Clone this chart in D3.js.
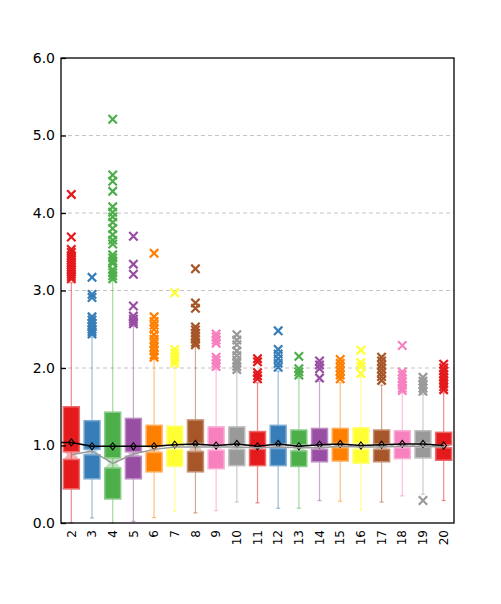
<!DOCTYPE html>
<html>
<head>
<meta charset="utf-8">
<script src="https://cdn.jsdelivr.net/npm/d3@7"></script>
<style>
  body { margin: 0; background: #fff; }
  text { font-family: "DejaVu Sans", Verdana, sans-serif; }
</style>
</head>
<body>
<svg id="chart" width="501" height="604"></svg>
<script>
// values
const categories = ["2","3","4","5","6","7","8","9","10","11","12","13","14","15","16","17","18","19","20"]
const q3       = [1.50,1.32,1.43,1.35,1.26,1.25,1.33,1.24,1.24,1.18,1.26,1.20,1.22,1.22,1.23,1.20,1.19,1.19,1.17]
const notchHi  = [0.92,0.95,0.84,0.92,0.99,1.01,1.03,1.01,1.02,0.99,1.02,1.01,1.01,1.03,1.03,1.02,1.02,1.03,1.01]
const medians  = [0.88,0.93,0.77,0.89,0.95,0.98,0.98,0.98,0.98,0.97,0.98,0.97,0.97,0.99,0.98,0.98,0.99,0.99,0.98]
const notchLo  = [0.82,0.88,0.71,0.86,0.91,0.95,0.92,0.94,0.95,0.95,0.96,0.93,0.95,0.97,0.95,0.95,0.97,0.98,0.97]
const q1       = [0.44,0.57,0.31,0.57,0.66,0.73,0.66,0.70,0.74,0.74,0.74,0.73,0.79,0.80,0.77,0.79,0.83,0.84,0.81]
const whiskLo  = [0.00,0.065,0.00,0.02,0.07,0.15,0.13,0.16,0.27,0.26,0.19,0.19,0.29,0.28,0.17,0.27,0.35,0.37,0.29]
const whiskHi  = [3.10,2.40,3.13,2.54,2.11,2.02,2.28,1.98,1.94,1.81,1.96,1.87,1.83,1.81,1.89,1.78,1.68,1.66,1.68]
const means    = [1.04,0.99,0.99,0.99,0.99,1.01,1.02,1.00,1.02,0.99,1.02,0.99,1.01,1.02,1.00,1.01,1.02,1.02,1.00]
const outliers = [
  [4.24,3.69,3.53,3.49,3.45,3.42,3.39,3.36,3.33,3.30,3.27,3.24,3.21,3.18,3.15],
  [3.17,2.95,2.91,2.66,2.62,2.58,2.54,2.50,2.47,2.44],
  [5.21,4.49,4.41,4.28,4.08,4.01,3.95,3.88,3.80,3.72,3.65,3.60,3.46,3.42,3.38,3.35,3.27,3.23,3.19,3.15],
  [3.70,3.34,3.21,2.80,2.67,2.63,2.60,2.57],
  [3.48,2.66,2.60,2.55,2.50,2.43,2.37,2.32,2.27,2.22,2.17,2.14],
  [2.97,2.24,2.19,2.14,2.10,2.06],
  [3.28,2.84,2.77,2.53,2.49,2.45,2.41,2.37,2.33,2.30],
  [2.44,2.40,2.36,2.32,2.14,2.10,2.06,2.02],
  [2.43,2.36,2.30,2.22,2.16,2.10,2.06,2.02,1.98],
  [2.12,2.08,1.94,1.90,1.86],
  [2.48,2.24,2.18,2.12,2.06,2.01],
  [2.15,1.99,1.95,1.91],
  [2.09,2.04,1.99,1.87],
  [2.11,2.06,2.01,1.96,1.91,1.86],
  [2.23,2.07,2.02,1.93],
  [2.14,2.09,2.04,1.99,1.94,1.89,1.84],
  [2.29,1.95,1.91,1.86,1.82,1.78,1.74,1.71],
  [1.88,1.83,1.78,1.74,1.70,0.29],
  [2.05,2.00,1.96,1.92,1.88,1.84,1.80,1.76,1.72]
]
const yTicks = [0,1,2,3,4,5,6]

const margin = {top: 58, right: 47, bottom: 81, left: 61}
const svgEl = d3.select("#chart")
const width = +svgEl.attr("width") - margin.left - margin.right
const height = +svgEl.attr("height") - margin.top - margin.bottom
const svg = svgEl.append("g").attr("transform", `translate(${margin.left},${margin.top})`)

const x = d3.scalePoint().domain(categories).range([0, width]).padding(0.5)
const y = d3.scaleLinear().domain([0, 6]).range([height, 0])
const color = d3.scaleOrdinal().domain(categories).range(d3.schemeSet1)
const light = c => d3.interpolateRgb(c, "#fff")(0.35)

const boxW = x.step() * 0.77
const capW = 4

const rows = categories.map((c, i) => ({
  cat: c, q1: q1[i], q3: q3[i], med: medians[i], nLo: notchLo[i], nHi: notchHi[i],
  lo: whiskLo[i], hi: whiskHi[i], mean: means[i], out: outliers[i]
}))

// grid
svg.append("g")
  .selectAll("line")
  .data(yTicks.filter(t => t > 0 && t < 6))
  .join("line")
  .attr("x1", 0).attr("x2", width)
  .attr("y1", d => y(d)).attr("y2", d => y(d))
  .attr("stroke", "#c4c4c4")
  .attr("stroke-dasharray", "4,3")

const g = svg.append("g")
  .selectAll("g")
  .data(rows)
  .join("g")
  .attr("transform", d => `translate(${x(d.cat)},0)`)

// whiskers
g.append("line")
  .attr("y1", d => y(d.lo)).attr("y2", d => y(d.hi))
  .attr("stroke", d => color(d.cat)).attr("stroke-opacity", 0.5).attr("stroke-width", 1.2)
g.selectAll(".cap")
  .data(d => [d.lo, d.hi].map(v => ({v, cat: d.cat})))
  .join("line")
  .attr("class", "cap")
  .attr("x1", -capW / 2).attr("x2", capW / 2)
  .attr("y1", d => y(d.v)).attr("y2", d => y(d.v))
  .attr("stroke", d => color(d.cat)).attr("stroke-opacity", 0.5).attr("stroke-width", 1.2)

// notch
g.append("path")
  .attr("d", d => {
    const h = boxW / 2, n = boxW / 4
    return `M${-h},${y(d.nHi)}L${h},${y(d.nHi)}L${n},${y(d.med)}L${h},${y(d.nLo)}L${-h},${y(d.nLo)}L${-n},${y(d.med)}Z`
  })
  .attr("fill", d => color(d.cat)).attr("fill-opacity", 0.35)

// upper and lower halves
g.append("rect")
  .attr("x", -boxW / 2).attr("width", boxW)
  .attr("y", d => y(d.q3)).attr("height", d => y(d.nHi) - y(d.q3))
  .attr("fill", d => color(d.cat)).attr("stroke", d => light(color(d.cat))).attr("stroke-width", 1.5)
g.append("rect")
  .attr("x", -boxW / 2).attr("width", boxW)
  .attr("y", d => y(d.nLo)).attr("height", d => y(d.q1) - y(d.nLo))
  .attr("fill", d => color(d.cat)).attr("stroke", d => light(color(d.cat))).attr("stroke-width", 1.5)

// outliers
const xs = 4.2
g.selectAll(".out")
  .data(d => d.out.map(v => ({v, cat: d.cat})))
  .join("path")
  .attr("class", "out")
  .attr("d", d => `M${-xs},${y(d.v) - xs}L${xs},${y(d.v) + xs}M${-xs},${y(d.v) + xs}L${xs},${y(d.v) - xs}`)
  .attr("stroke", d => color(d.cat)).attr("stroke-width", 2.2).attr("fill", "none")

// median line
svg.append("path")
  .datum(rows)
  .attr("d", d3.line().x(d => x(d.cat)).y(d => y(d.med)))
  .attr("fill", "none").attr("stroke", "#9a9a9a").attr("stroke-width", 1.5)

// mean line, starting at the left edge
const meanPts = [[0, y(means[0])]].concat(rows.map(d => [x(d.cat), y(d.mean)]))
svg.append("path")
  .attr("d", d3.line()(meanPts))
  .attr("fill", "none").attr("stroke", "#000").attr("stroke-width", 1.5)

// mean diamonds
const ds = 3.5
g.append("path")
  .attr("d", d => `M0,${y(d.mean) - ds}L${ds * 0.8},${y(d.mean)}L0,${y(d.mean) + ds}L${-ds * 0.8},${y(d.mean)}Z`)
  .attr("fill", "none").attr("stroke", "#000").attr("stroke-width", 1.1)

// frame
svg.append("rect")
  .attr("width", width).attr("height", height)
  .attr("fill", "none").attr("stroke", "#000").attr("stroke-width", 1.3)

// y axis
const yAxis = svg.append("g")
  .call(d3.axisLeft(y).tickValues(yTicks).tickFormat(d3.format(".1f")).tickSize(-5).tickPadding(6))
yAxis.select(".domain").remove()
yAxis.selectAll("line").attr("stroke", "#000").attr("stroke-width", 1.3)
yAxis.selectAll("text").attr("font-size", 14).attr("fill", "#000")
  .attr("font-family", "DejaVu Sans, Verdana, sans-serif")

// x labels
svg.append("g")
  .selectAll("text")
  .data(categories)
  .join("text")
  .attr("transform", d => `translate(${x(d)},${height + 7}) rotate(-90)`)
  .attr("text-anchor", "end")
  .attr("dy", "0.35em")
  .attr("font-size", 12)
  .text(d => d)
</script>
</body>
</html>
